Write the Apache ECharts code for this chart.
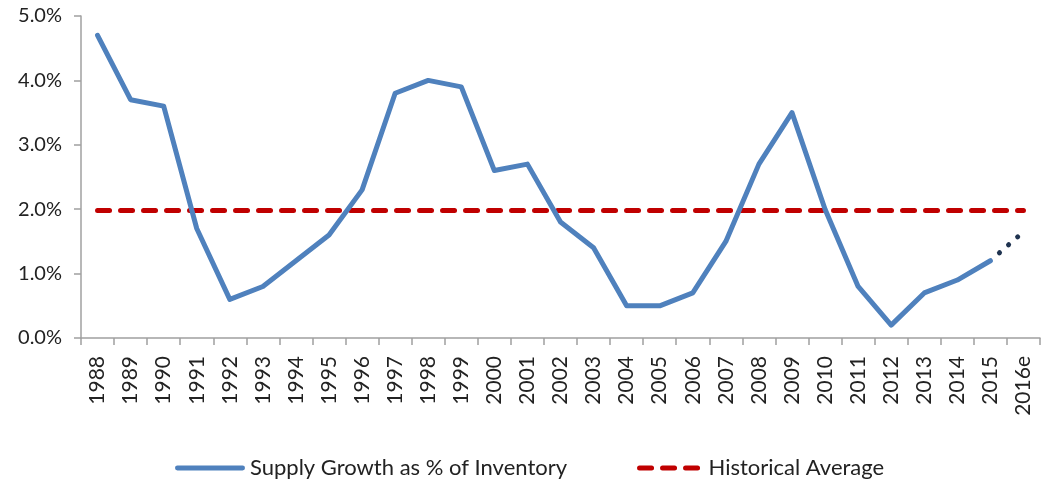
<!DOCTYPE html>
<html>
<head>
<meta charset="utf-8">
<script src="https://cdn.jsdelivr.net/npm/echarts@6/dist/echarts.min.js"></script>
<style>html,body{margin:0;padding:0;background:#fff}#c{width:1045px;height:482px}</style>
</head>
<body>
<div id="c"></div>
<script>
const categories = ['1988','1989','1990','1991','1992','1993','1994','1995','1996','1997','1998','1999','2000','2001','2002','2003','2004','2005','2006','2007','2008','2009','2010','2011','2012','2013','2014','2015','2016e'];
const supplyGrowth = [4.7,3.7,3.6,1.7,0.6,0.8,1.2,1.6,2.3,3.8,4.0,3.9,2.6,2.7,1.8,1.4,0.5,0.5,0.7,1.5,2.7,3.5,2.0,0.8,0.2,0.7,0.9,1.2,null];
const forecast = [null,null,null,null,null,null,null,null,null,null,null,null,null,null,null,null,null,null,null,null,null,null,null,null,null,null,null,1.2,1.65];
const historicalAverage = 1.98;
const avgLine = categories.map(() => historicalAverage);
const yTicks = ['0.0%','1.0%','2.0%','3.0%','4.0%','5.0%'];

const FONT = 'Lato';
const chart = echarts.init(document.getElementById('c'), null, {renderer: 'canvas'});
chart.setOption({
  animation: false,
  backgroundColor: '#fff',
  textStyle: {fontFamily: FONT},
  grid: {left: 81, right: 5, top: 16, bottom: 144, containLabel: false},
  legend: {
    data: [
      {name: 'Supply Growth as % of Inventory',
       icon: 'path://M2.5,0H69.5A2.5,2.5,0,0,1,69.5,5H2.5A2.5,2.5,0,0,1,2.5,0Z',
       itemStyle: {color: '#4F81BD'}},
      {name: 'Historical Average',
       icon: 'path://M2.5,0H14.5A2.5,2.5,0,0,1,14.5,5H2.5A2.5,2.5,0,0,1,2.5,0Z M25.5,0H37.5A2.5,2.5,0,0,1,37.5,5H25.5A2.5,2.5,0,0,1,25.5,0Z M48.5,0H60.5A2.5,2.5,0,0,1,60.5,5H48.5A2.5,2.5,0,0,1,48.5,0Z',
       itemStyle: {color: '#C00000'}}
    ],
    top: 457,
    left: 175,
    padding: 0,
    itemWidth: 70,
    itemHeight: 5,
    itemGap: 70,
    textStyle: {fontFamily: FONT, fontSize: 22, color: '#222'}
  },
  xAxis: {
    type: 'category',
    data: categories,
    boundaryGap: true,
    axisLine: {lineStyle: {color: '#A0A0A0', width: 1.5}},
    axisTick: {show: true, length: 7, inside: false, lineStyle: {color: '#A0A0A0', width: 1.5}},
    axisLabel: {rotate: 90, interval: 0, margin: 18, fontSize: 21, color: '#222', fontFamily: FONT}
  },
  yAxis: {
    type: 'value',
    min: 0, max: 5, interval: 1,
    splitLine: {show: false},
    axisLine: {show: true, lineStyle: {color: '#A0A0A0', width: 1.5}},
    axisTick: {show: true, length: 7, lineStyle: {color: '#A0A0A0', width: 1.5}},
    axisLabel: {margin: 19, fontSize: 20, color: '#222', fontFamily: FONT,
      formatter: v => yTicks[Math.round(v)]}
  },
  series: [
    {
      name: 'Supply Growth as % of Inventory',
      type: 'line',
      data: supplyGrowth,
      showSymbol: false,
      symbol: 'none',
      color: '#4F81BD',
      lineStyle: {color: '#4F81BD', width: 5, cap: 'round', join: 'round'},
      z: 3
    },
    {
      name: 'Forecast',
      type: 'line',
      data: forecast,
      showSymbol: false,
      symbol: 'none',
      color: '#1F3350',
      lineStyle: {color: '#1F3350', width: 5, type: [0.1, 12], cap: 'round', dashOffset: -12},
      z: 3
    },
    {
      name: 'Historical Average',
      type: 'line',
      data: avgLine,
      showSymbol: false,
      symbol: 'none',
      color: '#C00000',
      lineStyle: {color: '#C00000', width: 5, type: [12, 11], cap: 'round'},
      z: 2
    }
  ]
});
</script>
</body>
</html>
